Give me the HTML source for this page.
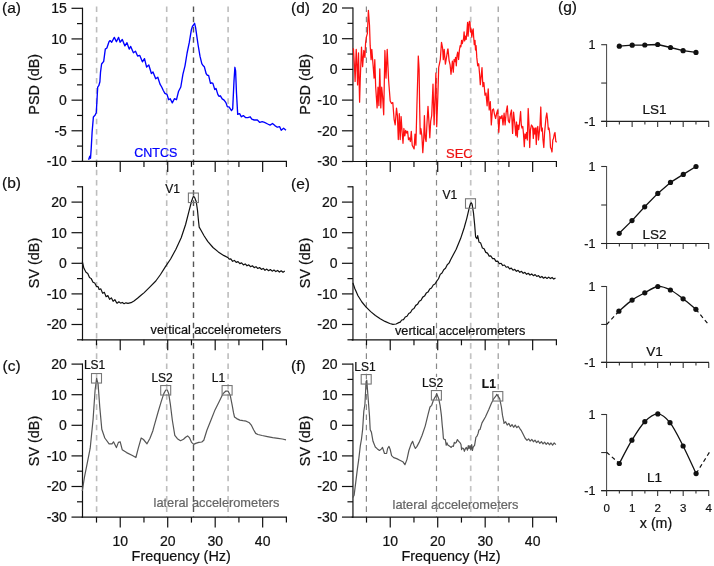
<!DOCTYPE html>
<html><head><meta charset="utf-8"><style>html,body{margin:0;padding:0;background:#fff;width:714px;height:566px;overflow:hidden}svg{display:block;will-change:transform}</style></head><body>
<svg width="714" height="566" viewBox="0 0 714 566" font-family="&quot;Liberation Sans&quot;, sans-serif">
<rect width="714" height="566" fill="#fff"/>
<text x="2" y="12.6" font-size="15.5" text-anchor="start" fill="#111"  stroke="#111" stroke-width="0.22">(a)</text>
<text x="2" y="188.2" font-size="15.5" text-anchor="start" fill="#111"  stroke="#111" stroke-width="0.22">(b)</text>
<text x="2.5" y="370.6" font-size="15.5" text-anchor="start" fill="#111"  stroke="#111" stroke-width="0.22">(c)</text>
<text x="291" y="12.8" font-size="15.5" text-anchor="start" fill="#111"  stroke="#111" stroke-width="0.22">(d)</text>
<text x="291" y="188.6" font-size="15.5" text-anchor="start" fill="#111"  stroke="#111" stroke-width="0.22">(e)</text>
<text x="291" y="370.6" font-size="15.5" text-anchor="start" fill="#111"  stroke="#111" stroke-width="0.22">(f)</text>
<text x="558" y="12.3" font-size="15.5" text-anchor="start" fill="#111"  stroke="#111" stroke-width="0.22">(g)</text>
<text x="39.3" y="84.3" font-size="14.4" text-anchor="middle" fill="#111" stroke="#111" stroke-width="0.22" transform="rotate(-90 39.3 84.3)">PSD (dB)</text>
<text x="39.3" y="263" font-size="14.4" text-anchor="middle" fill="#111" stroke="#111" stroke-width="0.22" transform="rotate(-90 39.3 263)">SV (dB)</text>
<text x="39.3" y="441" font-size="14.4" text-anchor="middle" fill="#111" stroke="#111" stroke-width="0.22" transform="rotate(-90 39.3 441)">SV (dB)</text>
<text x="310.3" y="84.3" font-size="14.4" text-anchor="middle" fill="#111" stroke="#111" stroke-width="0.22" transform="rotate(-90 310.3 84.3)">PSD (dB)</text>
<text x="310.3" y="263" font-size="14.4" text-anchor="middle" fill="#111" stroke="#111" stroke-width="0.22" transform="rotate(-90 310.3 263)">SV (dB)</text>
<text x="310.3" y="441" font-size="14.4" text-anchor="middle" fill="#111" stroke="#111" stroke-width="0.22" transform="rotate(-90 310.3 441)">SV (dB)</text>
<text x="181.2" y="561" font-size="14.4" text-anchor="middle" fill="#111"  stroke="#111" stroke-width="0.22">Frequency (Hz)</text>
<text x="451" y="561" font-size="14.4" text-anchor="middle" fill="#111"  stroke="#111" stroke-width="0.22">Frequency (Hz)</text>
<text x="134.3" y="157.4" font-size="12.5" text-anchor="start" fill="#0000ff"  stroke="#0000ff" stroke-width="0.22">CNTCS</text>
<text x="446" y="158.3" font-size="13" text-anchor="start" fill="#ee1111"  stroke="#ee1111" stroke-width="0.22">SEC</text>
<text x="150.6" y="333.7" font-size="12.7" text-anchor="start" fill="#111"  stroke="#111" stroke-width="0.22">vertical accelerometers</text>
<text x="153.6" y="506.8" font-size="12.8" text-anchor="start" fill="#666"  stroke="#666" stroke-width="0.22">lateral accelerometers</text>
<text x="395" y="334.6" font-size="12.7" text-anchor="start" fill="#111"  stroke="#111" stroke-width="0.22">vertical accelerometers</text>
<text x="392.6" y="508.9" font-size="12.8" text-anchor="start" fill="#666"  stroke="#666" stroke-width="0.22">lateral accelerometers</text>
<line x1="96.6" y1="6.5" x2="96.6" y2="517" stroke="#bdbdbd" stroke-width="1.6" stroke-dasharray="5.6 4.6"/>
<line x1="166.7" y1="6.5" x2="166.7" y2="517" stroke="#bdbdbd" stroke-width="1.6" stroke-dasharray="5.6 4.6"/>
<line x1="193.5" y1="6.5" x2="193.5" y2="517" stroke="#555" stroke-width="1.4" stroke-dasharray="5.6 4.6"/>
<line x1="228.1" y1="6.5" x2="228.1" y2="517" stroke="#bdbdbd" stroke-width="1.6" stroke-dasharray="5.6 4.6"/>
<line x1="366.4" y1="6.5" x2="366.4" y2="517" stroke="#888" stroke-width="1.2" stroke-dasharray="5.6 4.6"/>
<line x1="436.5" y1="6.5" x2="436.5" y2="517" stroke="#888" stroke-width="1.2" stroke-dasharray="5.6 4.6"/>
<line x1="470.7" y1="6.5" x2="470.7" y2="517" stroke="#c4c4c4" stroke-width="1.7" stroke-dasharray="5.6 4.6"/>
<line x1="498.2" y1="6.5" x2="498.2" y2="517" stroke="#999" stroke-width="1.2" stroke-dasharray="5.6 4.6"/>
<line x1="82.5" y1="7.7" x2="82.5" y2="162" stroke="#111" stroke-width="1.2" />
<line x1="71.5" y1="161.4" x2="82.5" y2="161.4" stroke="#111" stroke-width="1.2" />
<text x="66.9" y="166.3" font-size="14" text-anchor="end" fill="#111"  stroke="#111" stroke-width="0.22">-10</text>
<line x1="77" y1="146.09" x2="82.5" y2="146.09" stroke="#111" stroke-width="1.2" />
<line x1="71.5" y1="130.78" x2="82.5" y2="130.78" stroke="#111" stroke-width="1.2" />
<text x="66.9" y="135.68" font-size="14" text-anchor="end" fill="#111"  stroke="#111" stroke-width="0.22">-5</text>
<line x1="77" y1="115.47" x2="82.5" y2="115.47" stroke="#111" stroke-width="1.2" />
<line x1="71.5" y1="100.16" x2="82.5" y2="100.16" stroke="#111" stroke-width="1.2" />
<text x="66.9" y="105.06" font-size="14" text-anchor="end" fill="#111"  stroke="#111" stroke-width="0.22">0</text>
<line x1="77" y1="84.85" x2="82.5" y2="84.85" stroke="#111" stroke-width="1.2" />
<line x1="71.5" y1="69.54" x2="82.5" y2="69.54" stroke="#111" stroke-width="1.2" />
<text x="66.9" y="74.44" font-size="14" text-anchor="end" fill="#111"  stroke="#111" stroke-width="0.22">5</text>
<line x1="77" y1="54.23" x2="82.5" y2="54.23" stroke="#111" stroke-width="1.2" />
<line x1="71.5" y1="38.92" x2="82.5" y2="38.92" stroke="#111" stroke-width="1.2" />
<text x="66.9" y="43.82" font-size="14" text-anchor="end" fill="#111"  stroke="#111" stroke-width="0.22">10</text>
<line x1="77" y1="23.61" x2="82.5" y2="23.61" stroke="#111" stroke-width="1.2" />
<line x1="71.5" y1="8.3" x2="82.5" y2="8.3" stroke="#111" stroke-width="1.2" />
<text x="66.9" y="13.2" font-size="14" text-anchor="end" fill="#111"  stroke="#111" stroke-width="0.22">15</text>
<line x1="81.66" y1="161.4" x2="287" y2="161.4" stroke="#111" stroke-width="1.2" />
<line x1="96.5" y1="161.4" x2="96.5" y2="166.9" stroke="#111" stroke-width="1.2" />
<line x1="120.23" y1="161.4" x2="120.23" y2="171.9" stroke="#111" stroke-width="1.2" />
<line x1="143.97" y1="161.4" x2="143.97" y2="166.9" stroke="#111" stroke-width="1.2" />
<line x1="167.71" y1="161.4" x2="167.71" y2="171.9" stroke="#111" stroke-width="1.2" />
<line x1="191.45" y1="161.4" x2="191.45" y2="166.9" stroke="#111" stroke-width="1.2" />
<line x1="215.19" y1="161.4" x2="215.19" y2="171.9" stroke="#111" stroke-width="1.2" />
<line x1="238.92" y1="161.4" x2="238.92" y2="166.9" stroke="#111" stroke-width="1.2" />
<line x1="262.66" y1="161.4" x2="262.66" y2="171.9" stroke="#111" stroke-width="1.2" />
<line x1="286.4" y1="161.4" x2="286.4" y2="166.9" stroke="#111" stroke-width="1.2" />
<line x1="82.5" y1="186.2" x2="82.5" y2="340.4" stroke="#111" stroke-width="1.2" />
<line x1="77" y1="339.8" x2="82.5" y2="339.8" stroke="#111" stroke-width="1.2" />
<line x1="71.5" y1="324.5" x2="82.5" y2="324.5" stroke="#111" stroke-width="1.2" />
<text x="66.9" y="329.4" font-size="14" text-anchor="end" fill="#111"  stroke="#111" stroke-width="0.22">-20</text>
<line x1="77" y1="309.2" x2="82.5" y2="309.2" stroke="#111" stroke-width="1.2" />
<line x1="71.5" y1="293.9" x2="82.5" y2="293.9" stroke="#111" stroke-width="1.2" />
<text x="66.9" y="298.8" font-size="14" text-anchor="end" fill="#111"  stroke="#111" stroke-width="0.22">-10</text>
<line x1="77" y1="278.6" x2="82.5" y2="278.6" stroke="#111" stroke-width="1.2" />
<line x1="71.5" y1="263.3" x2="82.5" y2="263.3" stroke="#111" stroke-width="1.2" />
<text x="66.9" y="268.2" font-size="14" text-anchor="end" fill="#111"  stroke="#111" stroke-width="0.22">0</text>
<line x1="77" y1="248" x2="82.5" y2="248" stroke="#111" stroke-width="1.2" />
<line x1="71.5" y1="232.7" x2="82.5" y2="232.7" stroke="#111" stroke-width="1.2" />
<text x="66.9" y="237.6" font-size="14" text-anchor="end" fill="#111"  stroke="#111" stroke-width="0.22">10</text>
<line x1="77" y1="217.4" x2="82.5" y2="217.4" stroke="#111" stroke-width="1.2" />
<line x1="71.5" y1="202.1" x2="82.5" y2="202.1" stroke="#111" stroke-width="1.2" />
<text x="66.9" y="207" font-size="14" text-anchor="end" fill="#111"  stroke="#111" stroke-width="0.22">20</text>
<line x1="77" y1="186.8" x2="82.5" y2="186.8" stroke="#111" stroke-width="1.2" />
<line x1="81.66" y1="339.8" x2="287" y2="339.8" stroke="#111" stroke-width="1.2" />
<line x1="96.5" y1="339.8" x2="96.5" y2="345.3" stroke="#111" stroke-width="1.2" />
<line x1="120.23" y1="339.8" x2="120.23" y2="350.3" stroke="#111" stroke-width="1.2" />
<line x1="143.97" y1="339.8" x2="143.97" y2="345.3" stroke="#111" stroke-width="1.2" />
<line x1="167.71" y1="339.8" x2="167.71" y2="350.3" stroke="#111" stroke-width="1.2" />
<line x1="191.45" y1="339.8" x2="191.45" y2="345.3" stroke="#111" stroke-width="1.2" />
<line x1="215.19" y1="339.8" x2="215.19" y2="350.3" stroke="#111" stroke-width="1.2" />
<line x1="238.92" y1="339.8" x2="238.92" y2="345.3" stroke="#111" stroke-width="1.2" />
<line x1="262.66" y1="339.8" x2="262.66" y2="350.3" stroke="#111" stroke-width="1.2" />
<line x1="286.4" y1="339.8" x2="286.4" y2="345.3" stroke="#111" stroke-width="1.2" />
<line x1="82.5" y1="363.5" x2="82.5" y2="517.7" stroke="#111" stroke-width="1.2" />
<line x1="71.5" y1="517.1" x2="82.5" y2="517.1" stroke="#111" stroke-width="1.2" />
<text x="66.9" y="522" font-size="14" text-anchor="end" fill="#111"  stroke="#111" stroke-width="0.22">-30</text>
<line x1="77" y1="501.8" x2="82.5" y2="501.8" stroke="#111" stroke-width="1.2" />
<line x1="71.5" y1="486.5" x2="82.5" y2="486.5" stroke="#111" stroke-width="1.2" />
<text x="66.9" y="491.4" font-size="14" text-anchor="end" fill="#111"  stroke="#111" stroke-width="0.22">-20</text>
<line x1="77" y1="471.2" x2="82.5" y2="471.2" stroke="#111" stroke-width="1.2" />
<line x1="71.5" y1="455.9" x2="82.5" y2="455.9" stroke="#111" stroke-width="1.2" />
<text x="66.9" y="460.8" font-size="14" text-anchor="end" fill="#111"  stroke="#111" stroke-width="0.22">-10</text>
<line x1="77" y1="440.6" x2="82.5" y2="440.6" stroke="#111" stroke-width="1.2" />
<line x1="71.5" y1="425.3" x2="82.5" y2="425.3" stroke="#111" stroke-width="1.2" />
<text x="66.9" y="430.2" font-size="14" text-anchor="end" fill="#111"  stroke="#111" stroke-width="0.22">0</text>
<line x1="77" y1="410" x2="82.5" y2="410" stroke="#111" stroke-width="1.2" />
<line x1="71.5" y1="394.7" x2="82.5" y2="394.7" stroke="#111" stroke-width="1.2" />
<text x="66.9" y="399.6" font-size="14" text-anchor="end" fill="#111"  stroke="#111" stroke-width="0.22">10</text>
<line x1="77" y1="379.4" x2="82.5" y2="379.4" stroke="#111" stroke-width="1.2" />
<line x1="71.5" y1="364.1" x2="82.5" y2="364.1" stroke="#111" stroke-width="1.2" />
<text x="66.9" y="369" font-size="14" text-anchor="end" fill="#111"  stroke="#111" stroke-width="0.22">20</text>
<line x1="81.66" y1="517.1" x2="287" y2="517.1" stroke="#111" stroke-width="1.2" />
<line x1="96.5" y1="517.1" x2="96.5" y2="522.6" stroke="#111" stroke-width="1.2" />
<line x1="120.23" y1="517.1" x2="120.23" y2="527.6" stroke="#111" stroke-width="1.2" />
<text x="120.23" y="545.6" font-size="14" text-anchor="middle" fill="#111"  stroke="#111" stroke-width="0.22">10</text>
<line x1="143.97" y1="517.1" x2="143.97" y2="522.6" stroke="#111" stroke-width="1.2" />
<line x1="167.71" y1="517.1" x2="167.71" y2="527.6" stroke="#111" stroke-width="1.2" />
<text x="167.71" y="545.6" font-size="14" text-anchor="middle" fill="#111"  stroke="#111" stroke-width="0.22">20</text>
<line x1="191.45" y1="517.1" x2="191.45" y2="522.6" stroke="#111" stroke-width="1.2" />
<line x1="215.19" y1="517.1" x2="215.19" y2="527.6" stroke="#111" stroke-width="1.2" />
<text x="215.19" y="545.6" font-size="14" text-anchor="middle" fill="#111"  stroke="#111" stroke-width="0.22">30</text>
<line x1="238.92" y1="517.1" x2="238.92" y2="522.6" stroke="#111" stroke-width="1.2" />
<line x1="262.66" y1="517.1" x2="262.66" y2="527.6" stroke="#111" stroke-width="1.2" />
<text x="262.66" y="545.6" font-size="14" text-anchor="middle" fill="#111"  stroke="#111" stroke-width="0.22">40</text>
<line x1="286.4" y1="517.1" x2="286.4" y2="522.6" stroke="#111" stroke-width="1.2" />
<line x1="352.95" y1="7.4" x2="352.95" y2="162.1" stroke="#111" stroke-width="1.2" />
<line x1="341.95" y1="161.5" x2="352.95" y2="161.5" stroke="#111" stroke-width="1.2" />
<text x="337.6" y="166.4" font-size="14" text-anchor="end" fill="#111"  stroke="#111" stroke-width="0.22">-30</text>
<line x1="347.45" y1="146.15" x2="352.95" y2="146.15" stroke="#111" stroke-width="1.2" />
<line x1="341.95" y1="130.8" x2="352.95" y2="130.8" stroke="#111" stroke-width="1.2" />
<text x="337.6" y="135.7" font-size="14" text-anchor="end" fill="#111"  stroke="#111" stroke-width="0.22">-20</text>
<line x1="347.45" y1="115.45" x2="352.95" y2="115.45" stroke="#111" stroke-width="1.2" />
<line x1="341.95" y1="100.1" x2="352.95" y2="100.1" stroke="#111" stroke-width="1.2" />
<text x="337.6" y="105" font-size="14" text-anchor="end" fill="#111"  stroke="#111" stroke-width="0.22">-10</text>
<line x1="347.45" y1="84.75" x2="352.95" y2="84.75" stroke="#111" stroke-width="1.2" />
<line x1="341.95" y1="69.4" x2="352.95" y2="69.4" stroke="#111" stroke-width="1.2" />
<text x="337.6" y="74.3" font-size="14" text-anchor="end" fill="#111"  stroke="#111" stroke-width="0.22">0</text>
<line x1="347.45" y1="54.05" x2="352.95" y2="54.05" stroke="#111" stroke-width="1.2" />
<line x1="341.95" y1="38.7" x2="352.95" y2="38.7" stroke="#111" stroke-width="1.2" />
<text x="337.6" y="43.6" font-size="14" text-anchor="end" fill="#111"  stroke="#111" stroke-width="0.22">10</text>
<line x1="347.45" y1="23.35" x2="352.95" y2="23.35" stroke="#111" stroke-width="1.2" />
<line x1="341.95" y1="8" x2="352.95" y2="8" stroke="#111" stroke-width="1.2" />
<text x="337.6" y="12.9" font-size="14" text-anchor="end" fill="#111"  stroke="#111" stroke-width="0.22">20</text>
<line x1="351.65" y1="161.5" x2="557" y2="161.5" stroke="#111" stroke-width="1.2" />
<line x1="366.5" y1="161.5" x2="366.5" y2="167" stroke="#111" stroke-width="1.2" />
<line x1="390.24" y1="161.5" x2="390.24" y2="172" stroke="#111" stroke-width="1.2" />
<line x1="413.97" y1="161.5" x2="413.97" y2="167" stroke="#111" stroke-width="1.2" />
<line x1="437.71" y1="161.5" x2="437.71" y2="172" stroke="#111" stroke-width="1.2" />
<line x1="461.45" y1="161.5" x2="461.45" y2="167" stroke="#111" stroke-width="1.2" />
<line x1="485.18" y1="161.5" x2="485.18" y2="172" stroke="#111" stroke-width="1.2" />
<line x1="508.92" y1="161.5" x2="508.92" y2="167" stroke="#111" stroke-width="1.2" />
<line x1="532.66" y1="161.5" x2="532.66" y2="172" stroke="#111" stroke-width="1.2" />
<line x1="556.4" y1="161.5" x2="556.4" y2="167" stroke="#111" stroke-width="1.2" />
<line x1="352.95" y1="186.2" x2="352.95" y2="340.4" stroke="#111" stroke-width="1.2" />
<line x1="347.45" y1="339.8" x2="352.95" y2="339.8" stroke="#111" stroke-width="1.2" />
<line x1="341.95" y1="324.5" x2="352.95" y2="324.5" stroke="#111" stroke-width="1.2" />
<text x="337.6" y="329.4" font-size="14" text-anchor="end" fill="#111"  stroke="#111" stroke-width="0.22">-20</text>
<line x1="347.45" y1="309.2" x2="352.95" y2="309.2" stroke="#111" stroke-width="1.2" />
<line x1="341.95" y1="293.9" x2="352.95" y2="293.9" stroke="#111" stroke-width="1.2" />
<text x="337.6" y="298.8" font-size="14" text-anchor="end" fill="#111"  stroke="#111" stroke-width="0.22">-10</text>
<line x1="347.45" y1="278.6" x2="352.95" y2="278.6" stroke="#111" stroke-width="1.2" />
<line x1="341.95" y1="263.3" x2="352.95" y2="263.3" stroke="#111" stroke-width="1.2" />
<text x="337.6" y="268.2" font-size="14" text-anchor="end" fill="#111"  stroke="#111" stroke-width="0.22">0</text>
<line x1="347.45" y1="248" x2="352.95" y2="248" stroke="#111" stroke-width="1.2" />
<line x1="341.95" y1="232.7" x2="352.95" y2="232.7" stroke="#111" stroke-width="1.2" />
<text x="337.6" y="237.6" font-size="14" text-anchor="end" fill="#111"  stroke="#111" stroke-width="0.22">10</text>
<line x1="347.45" y1="217.4" x2="352.95" y2="217.4" stroke="#111" stroke-width="1.2" />
<line x1="341.95" y1="202.1" x2="352.95" y2="202.1" stroke="#111" stroke-width="1.2" />
<text x="337.6" y="207" font-size="14" text-anchor="end" fill="#111"  stroke="#111" stroke-width="0.22">20</text>
<line x1="347.45" y1="186.8" x2="352.95" y2="186.8" stroke="#111" stroke-width="1.2" />
<line x1="351.65" y1="339.8" x2="557" y2="339.8" stroke="#111" stroke-width="1.2" />
<line x1="366.5" y1="339.8" x2="366.5" y2="345.3" stroke="#111" stroke-width="1.2" />
<line x1="390.24" y1="339.8" x2="390.24" y2="350.3" stroke="#111" stroke-width="1.2" />
<line x1="413.97" y1="339.8" x2="413.97" y2="345.3" stroke="#111" stroke-width="1.2" />
<line x1="437.71" y1="339.8" x2="437.71" y2="350.3" stroke="#111" stroke-width="1.2" />
<line x1="461.45" y1="339.8" x2="461.45" y2="345.3" stroke="#111" stroke-width="1.2" />
<line x1="485.18" y1="339.8" x2="485.18" y2="350.3" stroke="#111" stroke-width="1.2" />
<line x1="508.92" y1="339.8" x2="508.92" y2="345.3" stroke="#111" stroke-width="1.2" />
<line x1="532.66" y1="339.8" x2="532.66" y2="350.3" stroke="#111" stroke-width="1.2" />
<line x1="556.4" y1="339.8" x2="556.4" y2="345.3" stroke="#111" stroke-width="1.2" />
<line x1="352.95" y1="363.5" x2="352.95" y2="517.7" stroke="#111" stroke-width="1.2" />
<line x1="341.95" y1="517.1" x2="352.95" y2="517.1" stroke="#111" stroke-width="1.2" />
<text x="337.6" y="522" font-size="14" text-anchor="end" fill="#111"  stroke="#111" stroke-width="0.22">-30</text>
<line x1="347.45" y1="501.8" x2="352.95" y2="501.8" stroke="#111" stroke-width="1.2" />
<line x1="341.95" y1="486.5" x2="352.95" y2="486.5" stroke="#111" stroke-width="1.2" />
<text x="337.6" y="491.4" font-size="14" text-anchor="end" fill="#111"  stroke="#111" stroke-width="0.22">-20</text>
<line x1="347.45" y1="471.2" x2="352.95" y2="471.2" stroke="#111" stroke-width="1.2" />
<line x1="341.95" y1="455.9" x2="352.95" y2="455.9" stroke="#111" stroke-width="1.2" />
<text x="337.6" y="460.8" font-size="14" text-anchor="end" fill="#111"  stroke="#111" stroke-width="0.22">-10</text>
<line x1="347.45" y1="440.6" x2="352.95" y2="440.6" stroke="#111" stroke-width="1.2" />
<line x1="341.95" y1="425.3" x2="352.95" y2="425.3" stroke="#111" stroke-width="1.2" />
<text x="337.6" y="430.2" font-size="14" text-anchor="end" fill="#111"  stroke="#111" stroke-width="0.22">0</text>
<line x1="347.45" y1="410" x2="352.95" y2="410" stroke="#111" stroke-width="1.2" />
<line x1="341.95" y1="394.7" x2="352.95" y2="394.7" stroke="#111" stroke-width="1.2" />
<text x="337.6" y="399.6" font-size="14" text-anchor="end" fill="#111"  stroke="#111" stroke-width="0.22">10</text>
<line x1="347.45" y1="379.4" x2="352.95" y2="379.4" stroke="#111" stroke-width="1.2" />
<line x1="341.95" y1="364.1" x2="352.95" y2="364.1" stroke="#111" stroke-width="1.2" />
<text x="337.6" y="369" font-size="14" text-anchor="end" fill="#111"  stroke="#111" stroke-width="0.22">20</text>
<line x1="351.65" y1="517.1" x2="557" y2="517.1" stroke="#111" stroke-width="1.2" />
<line x1="366.5" y1="517.1" x2="366.5" y2="522.6" stroke="#111" stroke-width="1.2" />
<line x1="390.24" y1="517.1" x2="390.24" y2="527.6" stroke="#111" stroke-width="1.2" />
<text x="390.24" y="545.6" font-size="14" text-anchor="middle" fill="#111"  stroke="#111" stroke-width="0.22">10</text>
<line x1="413.97" y1="517.1" x2="413.97" y2="522.6" stroke="#111" stroke-width="1.2" />
<line x1="437.71" y1="517.1" x2="437.71" y2="527.6" stroke="#111" stroke-width="1.2" />
<text x="437.71" y="545.6" font-size="14" text-anchor="middle" fill="#111"  stroke="#111" stroke-width="0.22">20</text>
<line x1="461.45" y1="517.1" x2="461.45" y2="522.6" stroke="#111" stroke-width="1.2" />
<line x1="485.18" y1="517.1" x2="485.18" y2="527.6" stroke="#111" stroke-width="1.2" />
<text x="485.18" y="545.6" font-size="14" text-anchor="middle" fill="#111"  stroke="#111" stroke-width="0.22">30</text>
<line x1="508.92" y1="517.1" x2="508.92" y2="522.6" stroke="#111" stroke-width="1.2" />
<line x1="532.66" y1="517.1" x2="532.66" y2="527.6" stroke="#111" stroke-width="1.2" />
<text x="532.66" y="545.6" font-size="14" text-anchor="middle" fill="#111"  stroke="#111" stroke-width="0.22">40</text>
<line x1="556.4" y1="517.1" x2="556.4" y2="522.6" stroke="#111" stroke-width="1.2" />
<rect x="164.7" y="183.2" width="14.5" height="10.4" fill="#fff"/>
<text x="165.2" y="192.8" font-size="12" text-anchor="start" fill="#111"  stroke="#111" stroke-width="0.22">V1</text>
<rect x="441.9" y="189.2" width="14.5" height="10.4" fill="#fff"/>
<text x="442.4" y="198.8" font-size="12" text-anchor="start" fill="#111"  stroke="#111" stroke-width="0.22">V1</text>
<rect x="83.4" y="359.8" width="21.5" height="10.4" fill="#fff"/>
<text x="83.9" y="369.4" font-size="12" text-anchor="start" fill="#111"  stroke="#111" stroke-width="0.22">LS1</text>
<rect x="150.9" y="371.9" width="21.5" height="10.4" fill="#fff"/>
<text x="151.4" y="381.5" font-size="12" text-anchor="start" fill="#111"  stroke="#111" stroke-width="0.22">LS2</text>
<rect x="211.3" y="371.9" width="13.5" height="10.4" fill="#fff"/>
<text x="211.8" y="381.5" font-size="12" text-anchor="start" fill="#111"  stroke="#111" stroke-width="0.22">L1</text>
<rect x="353.8" y="361.3" width="21.5" height="10.4" fill="#fff"/>
<text x="354.3" y="370.9" font-size="12" text-anchor="start" fill="#111"  stroke="#111" stroke-width="0.22">LS1</text>
<rect x="421.4" y="377" width="21.5" height="10.4" fill="#fff"/>
<text x="421.9" y="386.6" font-size="12" text-anchor="start" fill="#111"  stroke="#111" stroke-width="0.22">LS2</text>
<rect x="481.3" y="378.2" width="13.5" height="10.4" fill="#fff"/>
<text x="481.8" y="387.8" font-size="12" text-anchor="start" fill="#111" font-weight="bold" stroke="#111" stroke-width="0.22">L1</text>
<polyline points="88.6,159.8 89.8,156.2 90.5,158.3 91.2,148.6 92.1,132.3 93.4,116.9 95.2,115.1 96.3,112.4 97,99.8 97.7,87.1 98.8,85.7 99.9,81.7 100.5,72.4 101.6,64 103.7,61.3 105.3,49.1 106.9,48 109,41.7 110.1,40.6 111.7,42.2 114.3,37.4 116.4,41.7 118.6,37.4 120.1,42.2 122.3,39.5 124.9,45.9 127,42.7 129.2,49.1 130.7,46.4 133.4,52.8 135.5,51.2 137.6,56 139.8,55.4 142.4,61.8 144.5,58.6 146.6,67.1 148.8,65 151.4,73.5 153,71.9 155.7,78.8 157.8,77.2 160,84.1 161.7,87 163.3,90.5 164.9,93.4 167,94.4 168.7,99.7 170.2,98.7 172.3,102.9 174.4,98.7 176.5,99.7 178.6,91.2 180.8,87 182.9,74.3 185,65.8 187.1,53 189.3,42.4 191.4,29.7 192.4,26.5 193.5,25 194.6,23.3 195.6,27.6 197.1,38.2 198.1,45 200,56.2 201.8,63.6 203,65.5 204.3,66.7 206.1,73.5 207.4,75.4 208.6,75.4 210.5,83.4 211.7,82.8 212.9,83.4 214.8,89.6 216,88.4 217.9,94.6 219.1,96.4 220.4,95.8 222.2,98.9 224.1,100.1 225.9,102.6 227.4,106.9 229,106.9 231.5,110.6 232.7,108.8 234,80.9 234.9,67.3 235.6,71 236.5,93.3 237.7,114.4 239.6,113.7 241.4,116.8 243.3,115.6 245.5,117.6 247.8,117.6 250.2,116.8 251.8,119.2 254.2,120 257.4,120 259.8,122.4 262.2,121.6 264.5,122.4 267.7,124 270.1,125.1 272.5,123.5 274.9,125.6 277.3,127.2 279.7,126.7 281.2,130.3 283.6,128.3 286,130.3" fill="none" stroke="#0000ff" stroke-width="1.35" stroke-linejoin="round" />
<polyline points="82.3,261.5 83.9,268.3 86,272.18 87.75,273.42 89.5,277.43 91.25,278.63 93,282.3 94.75,283.05 96.5,286.42 98.25,286.82 99.1,289.51 100.85,288.85 102.6,293.2 104.35,292.35 106.1,296.7 107.85,295.62 109.6,299.34 111.35,297.83 113.1,301.33 114.85,299.62 116.6,302.83 117.1,303.22 118.85,301.81 120.6,303.13 122.35,302.45 124.1,303.68 125.85,302.83 128,303.4 131,302.7 134,300.9 137.5,298.2 141,295.3 144.2,292.6 150,286.8 155.8,281 160.5,274.5 165.3,266.9 170.6,259 175.9,249.2 181.2,237.8 185.6,224.5 189.2,210.4 191.5,201.5 193.2,196.6 194.5,197.1 196.2,201.5 197.5,210.4 198.5,221 199.2,227.1 200.7,229.8 204.2,236 207.7,241.3 213,247.5 218.3,251.9 223.6,255.4 228.2,257.8 229,259.03 230.8,258.81 232.6,261.29 234.4,260.45 236.2,262.41 238,261.61 239.8,263.63 241.6,262.85 243.4,264.85 245.2,263.92 247,265.79 248.8,264.86 250.6,266.72 252.4,265.77 254.2,267.61 256,266.66 257.8,268.5 259.6,267.54 261.4,269.39 263.2,268.43 265,270.28 266.8,269.11 268.6,270.73 270.4,269.55 272.2,271.18 274,270 275.8,271.62 277.6,270.45 279.4,272.07 281.2,270.77 283,272.26 284.8,270.94" fill="none" stroke="#111" stroke-width="1.2" stroke-linejoin="round" />
<polyline points="82.3,491 84.4,477.3 87.3,462.8 90.2,448.2 93.1,419.1 95.1,390 96.6,378.3 98.1,384.1 99.8,407.4 101.8,429.3 104.8,438 109.1,443.8 112,443.8 113.5,441.8 116.4,447.6 118.4,442.4 120.2,441.8 122.2,449.7 126.6,452.6 132.4,455.5 135.9,457.5 138.3,448.2 141.2,438 143.5,439.5 147,443.8 150,438.3 152.8,431 154.1,426.1 158.1,412 161.2,401.7 163.8,393.6 165.8,390 167.3,390 168.7,393.6 170.3,403.8 172.3,420 174.8,435.3 177.4,438.7 180.5,440.7 183.5,439.3 185.6,437.3 187.6,435.9 189.6,437.9 191.6,442.4 193.7,444.4 195.7,443.4 198.8,442.4 201.8,442 203.8,440.3 206.9,430.2 211,420 215,409.9 219.1,401.7 223.1,393.6 225.6,391.2 228.2,391.2 230.3,395.6 232.3,405.8 233.5,412.7 234.5,417 236.7,418.6 239.8,420.1 243,420.7 246.2,421.2 249.4,422.8 251.5,425.4 253.6,429.7 255.7,433.4 257.9,434.5 262.1,435.5 267.4,436.6 272.7,437.6 278,438.4 282.3,439 286,439.8" fill="none" stroke="#555" stroke-width="1.2" stroke-linejoin="round" />
<polyline points="353.4,48.2 354.6,68.9 355.1,81.5 356.2,49.4 356.9,64.3 357.6,84.9 358.5,52.8 359.6,102.2 360.3,78.1 361.5,47.1 362.6,66.6 363.8,50.5 364.9,57.4 365.6,42.5 366.5,36.7 367.4,33.3 368.4,10.3 369.5,25.3 370.2,45.9 371.1,59.7 371.8,49.4 373,64.3 374.1,78.1 374.8,59.7 375.7,87.2 377.1,107.9 378,87.2 378.9,105.6 379.8,68.9 380.8,107.9 381.7,87.2 382.6,96.4 383.7,114.8 384.9,50.5 386,78.1 387.2,49.4 388.6,80.3 390.2,101 391.5,103.5 392.8,102.6 394.1,119.3 395.2,124.8 396.5,108.1 397.4,115.6 398.3,139.6 399.3,113.7 400.2,139.6 401.1,116.5 402,130.4 403,143.3 403.9,128.5 404.8,135.9 405.7,130.4 406.7,133.1 407.6,131.3 408.5,139.6 409.4,137.8 410.4,141.5 411.3,131.3 412.2,145.2 413.1,147 414.1,148.9 415,134.1 415.9,145.2 416.9,106.3 417.8,74.8 418.3,56 419.1,69.3 419.6,104.4 420.2,134.1 420.9,128.5 421.9,135.9 422.8,152.6 423.7,139.6 424.4,115.6 425.2,137.8 426.1,141.5 427,123 428,106.3 428.9,121.1 429.8,137.8 430.7,121.1 431.7,115.6 433,84.1 434.1,124.8 434.8,104.4 435.9,73 436.7,126.7 437.8,97 438.7,67.4 440.3,59.6 441.5,42.4 442.6,48.2 443.3,59.6 444.2,49.3 445.4,64.2 446.5,57.3 447.7,49.3 448,48.9 449.1,60.6 450.1,64.8 451,74.3 451.7,68 452.4,61.1 453.3,72.2 454.1,59.5 454.9,61.6 455.6,57.4 456.3,65.8 457,55.3 457.7,52.1 458.6,59.5 459.4,50 460.2,45.7 460.9,46.8 461.6,40.4 462.3,43.6 462.8,41.5 463.6,38.3 464.1,31.9 464.7,41 465.5,36.2 466.2,39.4 466.9,31.9 467.6,22.4 468.1,36.2 468.8,25.6 469.4,21.4 470,22.4 470.5,31.9 471.1,28.8 471.8,37.2 472.6,30.9 473.2,28.8 473.6,36.2 474.3,44.7 475,40.4 475.5,50 476.1,45.7 476.8,57.4 477.7,65.8 478.7,63.7 479.6,74.3 480.3,84.6 481.4,74 482,67.6 482.9,86.7 483.9,82.5 485,95.2 486,93.1 487.1,105.8 488.2,88.8 489.2,110 490.3,101.6 491.3,124.9 492.4,110 493.5,109 494.5,114.3 495.6,118.5 496.7,113.2 497.7,110 498.8,132.3 499.8,116.4 500.9,118.5 502,115.4 503,124.9 504.1,113.2 505.1,124.9 506.2,112.2 507.3,105.8 508.3,120.7 509.4,122.8 510.4,114.3 511.5,110 512.6,133.4 513.6,112.2 514.7,122.8 515.8,135.5 516.5,122 517.3,137 518,125 518.8,129.5 519.5,123.5 520.6,111.5 521.3,125 522,128 522.8,126.5 523.5,134 524.3,146.7 525,134 525.8,138.5 526.5,132.5 527.3,140 528.2,108.5 529,125 529.7,147.5 530.5,129.5 531.5,125 532.6,126.5 533.3,138.5 534,128 534.8,134 535.5,128 536.3,144.5 537,128 537.8,126.5 538.5,140 539.3,132.5 540,125 540.8,107 541.5,131 542.3,128 543,140 543.8,147.5 544.5,134 545.3,125 546,117.5 546.8,113 547.5,119 548.3,129.5 549,128 549.8,134 550.5,147.5 551.3,149 552,152 552.8,140 553.5,138.5 554.3,134 555,132.5 555.8,141.5 556.7,142.2" fill="none" stroke="#ff1010" stroke-width="1.25" stroke-linejoin="round" />
<polyline points="352.9,282.9 354.8,288.5 358,295.7 361.9,302 365.9,306.8 370.7,311.6 375.4,315.5 380.2,318.7 385,321.4 389.8,323.5 392.9,324.3 396.1,324 399.3,322.4 400,322.36 401.75,320.01 403.5,319.66 405.25,317.03 407,316.24 408.75,313.45 410.5,312.45 412.25,309.45 414,308.43 415.75,305.39 417.5,304.35 419.25,301.29 421,300.2 422.75,297.12 424.5,296.1 426.25,293.09 428,292.08 429.75,289.04 431.5,288 433.25,285 435,284.07 436.75,281.1 438.5,278.75 440.25,274.4 442,273.02 443.75,269.68 445.5,268.33 447.25,264.74 449,263.13 450.75,259.52 456.2,249.2 460.6,238.6 464.1,228 466.8,218.3 468.9,209.4 470.3,204.1 471.2,202.7 472.1,204.1 473.5,213 474.7,225.3 475.6,236.8 476.9,238.6 477.7,235.6 478.8,241.2 479,242.05 480.7,243.11 482.4,247.98 484.1,248.78 485.8,252.37 487.5,253.16 489.2,256.09 490.9,255.95 492.6,258.68 494.3,258.63 496,261.37 497.7,261.16 499.4,263.76 501.1,263.27 502.8,265.54 504.5,265 506.2,267.25 507.9,266.7 509.6,268.86 511.3,268.14 513,270.22 514.7,269.36 516.4,271.27 518.1,270.39 519.8,272.28 521.5,271.37 523.2,273.27 524.9,272.39 526.6,274.31 528.3,273.28 530,275.02 531.7,273.96 533.4,275.69 535.1,274.62 536.8,276.45 538.5,275.58 540.2,277.51 541.9,276.47 543.6,278.21 545.3,277.1 547,278.5 548.7,277.1 550.4,278.61 552.1,277.45 553.8,279.09 555.5,277.93" fill="none" stroke="#111" stroke-width="1.2" stroke-linejoin="round" />
<polyline points="352.8,497.6 354.1,495.3 355.7,482.6 357.4,468.9 358.7,459.7 360.3,445.9 361.5,439 362.6,429.8 363.8,411.4 364.9,404.5 366.1,381.5 366.8,380.3 367.9,395.3 369.5,416 370.2,429.8 371.4,432.1 373,441.3 375.3,447 377.4,448.9 379.5,450.5 381.5,448.9 382.5,447.4 383.5,450.5 384.5,453.5 386.6,453.5 387.6,448.5 389,446.4 390.2,449.5 391.6,455.6 393.7,457.6 396.7,458.6 399.8,460.2 402.8,461.7 404.9,464.7 406.9,459.6 408.9,450.5 411,444.4 412.6,441.3 414,445.4 415.4,448.5 417,446.4 419.1,442.4 422.1,435.3 425.2,426.1 428.2,413.9 430,407 431.7,405.3 433.4,400.3 434.7,397.7 435.9,396.1 436.7,393.5 437.6,396.1 438.7,398.6 440.1,405.3 441.4,415.4 442.2,425 442.8,430.6 443.4,438.4 444.2,439.3 445.3,439.6 446.2,445.2 447,442.9 447.8,444.9 449,445.7 450.1,446.6 451.2,447.4 452.3,446 453.4,446.3 454.3,442.4 455.1,443.2 456.2,442.4 457.4,439.6 458.5,441.2 460.2,442.9 461,444.6 461.6,449.6 462.4,448 463.5,448.5 464.4,451.3 465.2,449.1 466.3,447.4 467.5,450.2 468.3,445.7 469.1,448.5 470,445.7 470.8,449.6 471.7,444.6 472.4,450.5 473.1,447.4 473.9,446 474.5,445.7 475,442.9 475.9,437.3 477,436.2 478.1,433.4 478.9,430 480,429.5 482,422.9 485.4,417 488.8,409.5 491.3,403.6 493.8,398.6 495.8,396.1 496.8,394.4 498,396.1 499.7,398.6 501.4,407 502.5,415.4 503.9,422.1 504,423.35 505.6,421.78 507.2,425 508.8,423.35 510.4,426.51 512,424.54 513.6,427.31 515.2,425.09 516.8,427.67 518.4,426.2 519.7,428.3 521.5,430.9 523.3,434.5 525,438 527,440.33 528.6,438.9 530.2,441.09 531.8,439.35 533.4,441.77 535,440.18 536.6,442.58 538.2,440.98 539.8,443.34 541.4,441.71 543,443.97 544.6,442.2 546.2,444.4 547.8,442.58 549.4,444.77 551,443 552.6,445.17 554.2,442.94 555.8,444.71" fill="none" stroke="#555" stroke-width="1.2" stroke-linejoin="round" />
<rect x="188.4" y="193.05" width="10" height="9.5" fill="none" stroke="#777" stroke-width="1.1"/>
<rect x="91.5" y="373.55" width="10" height="9.5" fill="none" stroke="#777" stroke-width="1.1"/>
<rect x="160.7" y="385.55" width="10" height="9.5" fill="none" stroke="#777" stroke-width="1.1"/>
<rect x="222.1" y="385.55" width="10" height="9.5" fill="none" stroke="#777" stroke-width="1.1"/>
<rect x="465.5" y="198.75" width="10" height="9.5" fill="none" stroke="#777" stroke-width="1.1"/>
<rect x="361.2" y="374.55" width="10" height="9.5" fill="none" stroke="#777" stroke-width="1.1"/>
<rect x="431.4" y="390.55" width="10" height="9.5" fill="none" stroke="#777" stroke-width="1.1"/>
<rect x="492.8" y="391.55" width="10" height="9.5" fill="none" stroke="#777" stroke-width="1.1"/>
<line x1="606.6" y1="44.2" x2="606.6" y2="121.4" stroke="#3a3a3a" stroke-width="0.95" />
<line x1="601.2" y1="44.7" x2="606.6" y2="44.7" stroke="#333" stroke-width="1.1" />
<line x1="601.2" y1="83.05" x2="606.6" y2="83.05" stroke="#333" stroke-width="1.1" />
<line x1="601.2" y1="121.4" x2="606.6" y2="121.4" stroke="#333" stroke-width="1.1" />
<line x1="601.2" y1="121.4" x2="709" y2="121.4" stroke="#222" stroke-width="1.15" />
<line x1="606.6" y1="121.4" x2="606.6" y2="126.9" stroke="#333" stroke-width="1.1" />
<line x1="619.37" y1="121.4" x2="619.37" y2="124.4" stroke="#333" stroke-width="1.1" />
<line x1="632.13" y1="121.4" x2="632.13" y2="126.9" stroke="#333" stroke-width="1.1" />
<line x1="644.89" y1="121.4" x2="644.89" y2="124.4" stroke="#333" stroke-width="1.1" />
<line x1="657.66" y1="121.4" x2="657.66" y2="126.9" stroke="#333" stroke-width="1.1" />
<line x1="670.43" y1="121.4" x2="670.43" y2="124.4" stroke="#333" stroke-width="1.1" />
<line x1="683.19" y1="121.4" x2="683.19" y2="126.9" stroke="#333" stroke-width="1.1" />
<line x1="695.96" y1="121.4" x2="695.96" y2="124.4" stroke="#333" stroke-width="1.1" />
<line x1="708.72" y1="121.4" x2="708.72" y2="126.9" stroke="#333" stroke-width="1.1" />
<text transform="matrix(0.93,0,0,1,595.5,49.3)" font-size="13.5" text-anchor="end" fill="#111"  stroke="#111" stroke-width="0.22">1</text>
<text transform="matrix(0.93,0,0,1,595.5,126)" font-size="13.5" text-anchor="end" fill="#111"  stroke="#111" stroke-width="0.22">-1</text>
<text x="654.5" y="114.2" font-size="13.5" text-anchor="middle" fill="#111"  stroke="#111" stroke-width="0.22">LS1</text>
<line x1="606.6" y1="166" x2="606.6" y2="243.5" stroke="#3a3a3a" stroke-width="0.95" />
<line x1="601.2" y1="166.5" x2="606.6" y2="166.5" stroke="#333" stroke-width="1.1" />
<line x1="601.2" y1="205" x2="606.6" y2="205" stroke="#333" stroke-width="1.1" />
<line x1="601.2" y1="243.5" x2="606.6" y2="243.5" stroke="#333" stroke-width="1.1" />
<line x1="601.2" y1="243.5" x2="709" y2="243.5" stroke="#222" stroke-width="1.15" />
<line x1="606.6" y1="243.5" x2="606.6" y2="249" stroke="#333" stroke-width="1.1" />
<line x1="619.37" y1="243.5" x2="619.37" y2="246.5" stroke="#333" stroke-width="1.1" />
<line x1="632.13" y1="243.5" x2="632.13" y2="249" stroke="#333" stroke-width="1.1" />
<line x1="644.89" y1="243.5" x2="644.89" y2="246.5" stroke="#333" stroke-width="1.1" />
<line x1="657.66" y1="243.5" x2="657.66" y2="249" stroke="#333" stroke-width="1.1" />
<line x1="670.43" y1="243.5" x2="670.43" y2="246.5" stroke="#333" stroke-width="1.1" />
<line x1="683.19" y1="243.5" x2="683.19" y2="249" stroke="#333" stroke-width="1.1" />
<line x1="695.96" y1="243.5" x2="695.96" y2="246.5" stroke="#333" stroke-width="1.1" />
<line x1="708.72" y1="243.5" x2="708.72" y2="249" stroke="#333" stroke-width="1.1" />
<text transform="matrix(0.93,0,0,1,595.5,171.1)" font-size="13.5" text-anchor="end" fill="#111"  stroke="#111" stroke-width="0.22">1</text>
<text transform="matrix(0.93,0,0,1,595.5,248.1)" font-size="13.5" text-anchor="end" fill="#111"  stroke="#111" stroke-width="0.22">-1</text>
<text x="654.5" y="238.6" font-size="13.5" text-anchor="middle" fill="#111"  stroke="#111" stroke-width="0.22">LS2</text>
<line x1="606.6" y1="286" x2="606.6" y2="362.4" stroke="#3a3a3a" stroke-width="0.95" />
<line x1="601.2" y1="286.5" x2="606.6" y2="286.5" stroke="#333" stroke-width="1.1" />
<line x1="601.2" y1="324.45" x2="606.6" y2="324.45" stroke="#333" stroke-width="1.1" />
<line x1="601.2" y1="362.4" x2="606.6" y2="362.4" stroke="#333" stroke-width="1.1" />
<line x1="601.2" y1="362.4" x2="709" y2="362.4" stroke="#222" stroke-width="1.15" />
<line x1="606.6" y1="362.4" x2="606.6" y2="367.9" stroke="#333" stroke-width="1.1" />
<line x1="619.37" y1="362.4" x2="619.37" y2="365.4" stroke="#333" stroke-width="1.1" />
<line x1="632.13" y1="362.4" x2="632.13" y2="367.9" stroke="#333" stroke-width="1.1" />
<line x1="644.89" y1="362.4" x2="644.89" y2="365.4" stroke="#333" stroke-width="1.1" />
<line x1="657.66" y1="362.4" x2="657.66" y2="367.9" stroke="#333" stroke-width="1.1" />
<line x1="670.43" y1="362.4" x2="670.43" y2="365.4" stroke="#333" stroke-width="1.1" />
<line x1="683.19" y1="362.4" x2="683.19" y2="367.9" stroke="#333" stroke-width="1.1" />
<line x1="695.96" y1="362.4" x2="695.96" y2="365.4" stroke="#333" stroke-width="1.1" />
<line x1="708.72" y1="362.4" x2="708.72" y2="367.9" stroke="#333" stroke-width="1.1" />
<text transform="matrix(0.93,0,0,1,595.5,291.1)" font-size="13.5" text-anchor="end" fill="#111"  stroke="#111" stroke-width="0.22">1</text>
<text transform="matrix(0.93,0,0,1,595.5,367)" font-size="13.5" text-anchor="end" fill="#111"  stroke="#111" stroke-width="0.22">-1</text>
<text x="654.5" y="355.6" font-size="13.5" text-anchor="middle" fill="#111"  stroke="#111" stroke-width="0.22">V1</text>
<line x1="606.6" y1="414" x2="606.6" y2="490.6" stroke="#3a3a3a" stroke-width="0.95" />
<line x1="601.2" y1="414.5" x2="606.6" y2="414.5" stroke="#333" stroke-width="1.1" />
<line x1="601.2" y1="452.55" x2="606.6" y2="452.55" stroke="#333" stroke-width="1.1" />
<line x1="601.2" y1="490.6" x2="606.6" y2="490.6" stroke="#333" stroke-width="1.1" />
<line x1="601.2" y1="490.6" x2="709" y2="490.6" stroke="#222" stroke-width="1.15" />
<line x1="606.6" y1="490.6" x2="606.6" y2="496.1" stroke="#333" stroke-width="1.1" />
<line x1="619.37" y1="490.6" x2="619.37" y2="493.6" stroke="#333" stroke-width="1.1" />
<line x1="632.13" y1="490.6" x2="632.13" y2="496.1" stroke="#333" stroke-width="1.1" />
<line x1="644.89" y1="490.6" x2="644.89" y2="493.6" stroke="#333" stroke-width="1.1" />
<line x1="657.66" y1="490.6" x2="657.66" y2="496.1" stroke="#333" stroke-width="1.1" />
<line x1="670.43" y1="490.6" x2="670.43" y2="493.6" stroke="#333" stroke-width="1.1" />
<line x1="683.19" y1="490.6" x2="683.19" y2="496.1" stroke="#333" stroke-width="1.1" />
<line x1="695.96" y1="490.6" x2="695.96" y2="493.6" stroke="#333" stroke-width="1.1" />
<line x1="708.72" y1="490.6" x2="708.72" y2="496.1" stroke="#333" stroke-width="1.1" />
<text transform="matrix(0.93,0,0,1,595.5,419.1)" font-size="13.5" text-anchor="end" fill="#111"  stroke="#111" stroke-width="0.22">1</text>
<text transform="matrix(0.93,0,0,1,595.5,495.2)" font-size="13.5" text-anchor="end" fill="#111"  stroke="#111" stroke-width="0.22">-1</text>
<text x="654.5" y="481.8" font-size="13.5" text-anchor="middle" fill="#111"  stroke="#111" stroke-width="0.22">L1</text>
<text x="606.6" y="511.8" font-size="11.5" text-anchor="middle" fill="#111"  stroke="#111" stroke-width="0.22">0</text>
<text x="632.13" y="511.8" font-size="11.5" text-anchor="middle" fill="#111"  stroke="#111" stroke-width="0.22">1</text>
<text x="657.66" y="511.8" font-size="11.5" text-anchor="middle" fill="#111"  stroke="#111" stroke-width="0.22">2</text>
<text x="683.19" y="511.8" font-size="11.5" text-anchor="middle" fill="#111"  stroke="#111" stroke-width="0.22">3</text>
<text x="708.72" y="511.8" font-size="11.5" text-anchor="middle" fill="#111"  stroke="#111" stroke-width="0.22">4</text>
<text x="656" y="528" font-size="14.2" text-anchor="middle" fill="#111"  stroke="#111" stroke-width="0.22">x (m)</text>
<polyline points="619.3,46.2 632.2,45.2 644.8,45 657.7,44.5 670.5,47.5 683.1,50.7 696,52.4" fill="none" stroke="#111" stroke-width="1.3" stroke-linejoin="round" />
<circle cx="619.3" cy="46.2" r="2.6" fill="#111"/>
<circle cx="632.2" cy="45.2" r="2.6" fill="#111"/>
<circle cx="644.8" cy="45" r="2.6" fill="#111"/>
<circle cx="657.7" cy="44.5" r="2.6" fill="#111"/>
<circle cx="670.5" cy="47.5" r="2.6" fill="#111"/>
<circle cx="683.1" cy="50.7" r="2.6" fill="#111"/>
<circle cx="696" cy="52.4" r="2.6" fill="#111"/>
<polyline points="619.2,233.3 632,220.6 644.7,206.8 657.8,193.4 670.5,182.4 683.3,174.4 696,166.5" fill="none" stroke="#111" stroke-width="1.3" stroke-linejoin="round" />
<circle cx="619.2" cy="233.3" r="2.6" fill="#111"/>
<circle cx="632" cy="220.6" r="2.6" fill="#111"/>
<circle cx="644.7" cy="206.8" r="2.6" fill="#111"/>
<circle cx="657.8" cy="193.4" r="2.6" fill="#111"/>
<circle cx="670.5" cy="182.4" r="2.6" fill="#111"/>
<circle cx="683.3" cy="174.4" r="2.6" fill="#111"/>
<circle cx="696" cy="166.5" r="2.6" fill="#111"/>
<path d="M618.9,311.2 C621.1,309.35 627.78,303.17 632.1,300.1 C636.42,297.03 640.52,295.07 644.8,292.8 C649.08,290.53 653.53,286.97 657.8,286.5 C662.07,286.03 666.18,287.95 670.4,290 C674.62,292.05 678.85,295.58 683.1,298.8 C687.35,302.02 693.77,307.55 695.9,309.3" fill="none" stroke="#111" stroke-width="1.3"/>
<circle cx="618.9" cy="311.2" r="2.6" fill="#111"/>
<circle cx="632.1" cy="300.1" r="2.6" fill="#111"/>
<circle cx="644.8" cy="292.8" r="2.6" fill="#111"/>
<circle cx="657.8" cy="286.5" r="2.6" fill="#111"/>
<circle cx="670.4" cy="290" r="2.6" fill="#111"/>
<circle cx="683.1" cy="298.8" r="2.6" fill="#111"/>
<circle cx="695.9" cy="309.3" r="2.6" fill="#111"/>
<path d="M619.3,463.5 C621.4,459.62 627.65,447.17 631.9,440.2 C636.15,433.23 640.48,426.08 644.8,421.7 C649.12,417.32 653.6,413.73 657.8,413.9 C662,414.07 665.78,417.35 670,422.7 C674.22,428.05 678.75,437.52 683.1,446 C687.45,454.48 693.93,469 696.1,473.6" fill="none" stroke="#111" stroke-width="1.3"/>
<circle cx="619.3" cy="463.5" r="2.6" fill="#111"/>
<circle cx="631.9" cy="440.2" r="2.6" fill="#111"/>
<circle cx="644.8" cy="421.7" r="2.6" fill="#111"/>
<circle cx="657.8" cy="413.9" r="2.6" fill="#111"/>
<circle cx="670" cy="422.7" r="2.6" fill="#111"/>
<circle cx="683.1" cy="446" r="2.6" fill="#111"/>
<circle cx="696.1" cy="473.6" r="2.6" fill="#111"/>
<line x1="606.6" y1="324.5" x2="618.9" y2="311.2" stroke="#111" stroke-width="1.2" stroke-dasharray="4 3"/>
<line x1="695.9" y1="309.3" x2="708.5" y2="324.5" stroke="#111" stroke-width="1.2" stroke-dasharray="4 3"/>
<line x1="606.6" y1="452.2" x2="619.3" y2="463.5" stroke="#111" stroke-width="1.2" stroke-dasharray="4 3"/>
<line x1="696.1" y1="473.6" x2="709.5" y2="452.2" stroke="#111" stroke-width="1.2" stroke-dasharray="4 3"/>
</svg>
</body></html>
